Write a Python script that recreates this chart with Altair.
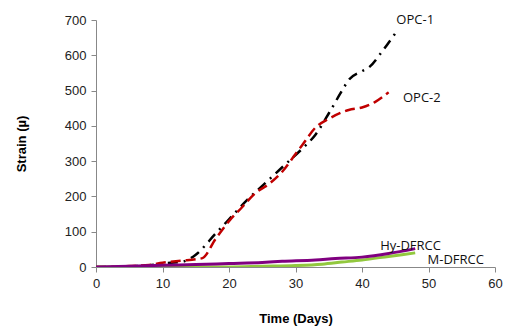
import altair as alt
import pandas as pd

# OPC-1
opc1_x = [0, 3, 5, 8, 10, 13, 15, 18, 20, 23, 25, 27, 29, 31, 33, 35, 37, 38, 40, 41, 43, 45]
opc1_y = [0, 0, 2, 5, 10, 15, 35, 95, 135, 195, 230, 265, 300, 335, 375, 435, 500, 530, 555, 565, 610, 662]
# OPC-2
opc2_x = [0, 3, 5, 8, 10, 13, 15, 16, 18, 20, 22, 24, 26, 28, 30, 31, 33, 35, 38, 40, 42, 44]
opc2_y = [0, 1, 3, 6, 12, 18, 22, 25, 80, 130, 170, 210, 235, 270, 320, 345, 395, 420, 445, 452, 468, 495]
# Hy-DFRCC
hy_x = [0, 5, 10, 15, 20, 25, 28, 33, 36, 40, 44, 48]
hy_y = [0, 2, 5, 7, 10, 13, 16, 20, 24, 28, 38, 52]
# M-DFRCC
m_x = [0, 5, 10, 15, 20, 25, 30, 34, 37, 40, 44, 48]
m_y = [0, 0, 0, 0, 0, 2, 4, 8, 14, 20, 30, 40]

series = ["OPC-1", "OPC-2", "Hy-DFRCC", "M-DFRCC"]
colors = ["#000000", "#c00000", "#800080", "#92c83e"]

label_text = ["OPC-1", "OPC-2", "Hy-DFRCC", "M-DFRCC"]
label_x = [48, 49, 47.3, 54.1]
label_y = [700, 478, 60, 20]

x_ticks = [0, 10, 20, 30, 40, 50, 60]
y_ticks = [0, 100, 200, 300, 400, 500, 600, 700]

rows = []
for s, xs_, ys_ in zip(series, [opc1_x, opc2_x, hy_x, m_x], [opc1_y, opc2_y, hy_y, m_y]):
    for x, y in zip(xs_, ys_):
        rows.append({"series": s, "day": x, "strain": y})
df = pd.DataFrame(rows)
lab = pd.DataFrame({"text": label_text, "x": label_x, "y": label_y})

xs = alt.Scale(domain=[0, 60], nice=False)
ys = alt.Scale(domain=[0, 700], nice=False)

xaxis = alt.Axis(values=x_ticks, title="Time (Days)", grid=False,
                 domainColor="#888888", tickColor="#888888", tickSize=5,
                 labelFont="Liberation Sans", labelFontSize=13, labelColor="#222222",
                 labelOverlap=False, labelFlush=False,
                 titleFont="Liberation Sans", titleFontSize=13, titleFontWeight="bold",
                 titlePadding=22, labelPadding=5)
yaxis = alt.Axis(values=y_ticks, title="Strain (µ)", grid=False,
                 domainColor="#888888", tickColor="#888888", tickSize=5,
                 labelFont="Liberation Sans", labelFontSize=13, labelColor="#222222",
                 labelOverlap=False, labelFlush=False,
                 titleFont="Liberation Sans", titleFontSize=13, titleFontWeight="bold",
                 titlePadding=36, labelPadding=5)

base = alt.Chart(df)

def line(name, color, dash, width):
    kw = dict(color=color, strokeWidth=width, interpolate="monotone", clip=True)
    if dash:
        kw["strokeDash"] = dash
    return base.transform_filter(alt.datum.series == name).mark_line(**kw).encode(
        x=alt.X("day:Q", scale=xs, axis=xaxis),
        y=alt.Y("strain:Q", scale=ys, axis=yaxis),
    )

l1 = line("OPC-1", colors[0], [10, 6, 2, 6], 2.5)
l2 = line("OPC-2", colors[1], [10, 5], 2.5)
l4 = line("M-DFRCC", colors[3], None, 3)
l3 = line("Hy-DFRCC", colors[2], None, 3)

text = alt.Chart(lab).mark_text(font="Open Sans", fontSize=13, color="#111111", align="center", baseline="middle").encode(
    x=alt.X("x:Q", scale=xs, axis=xaxis), y=alt.Y("y:Q", scale=ys, axis=yaxis), text="text:N")

chart = alt.layer(l1, l2, l4, l3, text).properties(
    width=399, height=247,
    autosize=alt.AutoSizeParams(type="none"),
    padding={"left": 88, "top": 12, "right": 8, "bottom": 60},
).configure_view(stroke=None)

chart.save("out.html", embed_options={"renderer": "svg", "actions": False})
